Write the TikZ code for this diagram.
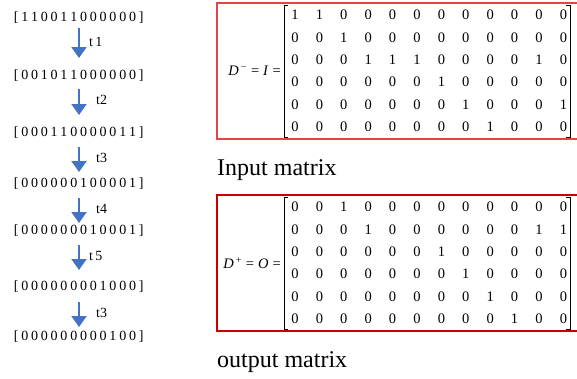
\documentclass[tikz,border=0pt]{standalone}
\usepackage{fontspec}
\setmainfont{Liberation Serif}
\usetikzlibrary{arrows.meta}
\definecolor{arrowblue}{RGB}{68,114,196}
\definecolor{boxredA}{RGB}{225,70,70}
\definecolor{boxredB}{RGB}{200,0,0}
\newcommand{\spacedvec}[1]{\spvA#1\relax}
\def\spvA#1{\ifx#1\relax\else\hspace{1.4pt}#1\hspace{1.4pt}\expandafter\spvA\fi}
\tikzset{
  vec/.style={inner sep=0pt, font=\fontsize{14}{16}\selectfont},
  tlab/.style={inner sep=0pt, anchor=west, font=\fontsize{14}{16}\selectfont},
  flow/.style={arrowblue, line width=2pt, -{Triangle[width=15pt,length=11pt]}},
  mnum/.style={inner sep=0pt, font=\fontsize{14.5}{16}\selectfont},
  mlab/.style={inner sep=0pt, anchor=east, font=\fontsize{14.5}{16}\selectfont},
  caption/.style={inner sep=0pt, anchor=base west, font=\fontsize{24}{28}\selectfont},
  brk/.style={black, line width=0.8pt},
}
\begin{document}
\begin{tikzpicture}[x=1pt,y=-1pt]
\useasboundingbox (0,0) rectangle (577,378);
% left column: state vectors
\node[vec] (r1) at (78,18) {\spacedvec{[110011000000]}};
\node[vec] (r2) at (78,76) {\spacedvec{[001011000000]}};
\node[vec] (r3) at (78,133) {\spacedvec{[000110000011]}};
\node[vec] (r4) at (78,184) {\spacedvec{[000000100001]}};
\node[vec] (r5) at (78,231) {\spacedvec{[000000010001]}};
\node[vec] (r6) at (78,287) {\spacedvec{[000000001000]}};
\node[vec] (r7) at (78,337) {\spacedvec{[000000000100]}};
% arrow end points
\coordinate (a1s) at (79,28);  \coordinate (a1e) at (79,58);
\coordinate (a2s) at (79,89);  \coordinate (a2e) at (79,115);
\coordinate (a3s) at (79,147); \coordinate (a3e) at (79,172);
\coordinate (a4s) at (79,198); \coordinate (a4e) at (79,223);
\coordinate (a5s) at (79,245); \coordinate (a5e) at (79,270);
\coordinate (a6s) at (79,302); \coordinate (a6e) at (79,327);
\draw[flow] (a1s) -- (a1e);
\draw[flow] (a2s) -- (a2e);
\draw[flow] (a3s) -- (a3e);
\draw[flow] (a4s) -- (a4e);
\draw[flow] (a5s) -- (a5e);
\draw[flow] (a6s) -- (a6e);
\node[tlab] (l1) at (89,42) {t\,1};
\node[tlab] (l2) at (96,100) {t2};
\node[tlab] (l3) at (96,158) {t3};
\node[tlab] (l4) at (96,209) {t4};
\node[tlab] (l5) at (89,256) {t\,5};
\node[tlab] (l6) at (96,313) {t3};
% input matrix box
\draw[boxredA, line width=1.1pt] (217,3) rectangle (579,139);
\node[mlab] (dm) at (281,71) {\textit{D}\textsuperscript{\hspace{2pt}−}\hspace{4pt}=\hspace{4pt}\textit{I}\hspace{4pt}=};
\foreach \row [count=\i from 0] in {
  {1,1,0,0,0,0,0,0,0,0,0,0},
  {0,0,1,0,0,0,0,0,0,0,0,0},
  {0,0,0,1,1,1,0,0,0,0,1,0},
  {0,0,0,0,0,0,1,0,0,0,0,0},
  {0,0,0,0,0,0,0,1,0,0,0,1},
  {0,0,0,0,0,0,0,0,1,0,0,0}} {
  \foreach \v [count=\j from 0] in \row {
    \node[mnum] (mi-\i-\j) at (295+24.4*\j, 15+22.4*\i) {\v};
  }
}
\draw[brk] (288,5) -- (284,5) -- (284,137) -- (288,137);
\draw[brk] (566,5) -- (570,5) -- (570,137) -- (566,137);
\node[caption] (cin) at (217,175) {Input matrix};
% output matrix box
\draw[boxredB, line width=1.1pt] (217,195) rectangle (579,331);
\node[mlab] (dp) at (281,263) {\textit{D}\textsuperscript{\hspace{2pt}+}\hspace{4pt}=\hspace{4pt}\textit{O}\hspace{4pt}=};
\foreach \row [count=\i from 0] in {
  {0,0,1,0,0,0,0,0,0,0,0,0},
  {0,0,0,1,0,0,0,0,0,0,1,1},
  {0,0,0,0,0,0,1,0,0,0,0,0},
  {0,0,0,0,0,0,0,1,0,0,0,0},
  {0,0,0,0,0,0,0,0,1,0,0,0},
  {0,0,0,0,0,0,0,0,0,1,0,0}} {
  \foreach \v [count=\j from 0] in \row {
    \node[mnum] (mo-\i-\j) at (295+24.4*\j, 207+22.4*\i) {\v};
  }
}
\draw[brk] (288,197) -- (284,197) -- (284,329) -- (288,329);
\draw[brk] (566,197) -- (570,197) -- (570,329) -- (566,329);
\node[caption] (cout) at (217,367) {output matrix};
\end{tikzpicture}
\end{document}
